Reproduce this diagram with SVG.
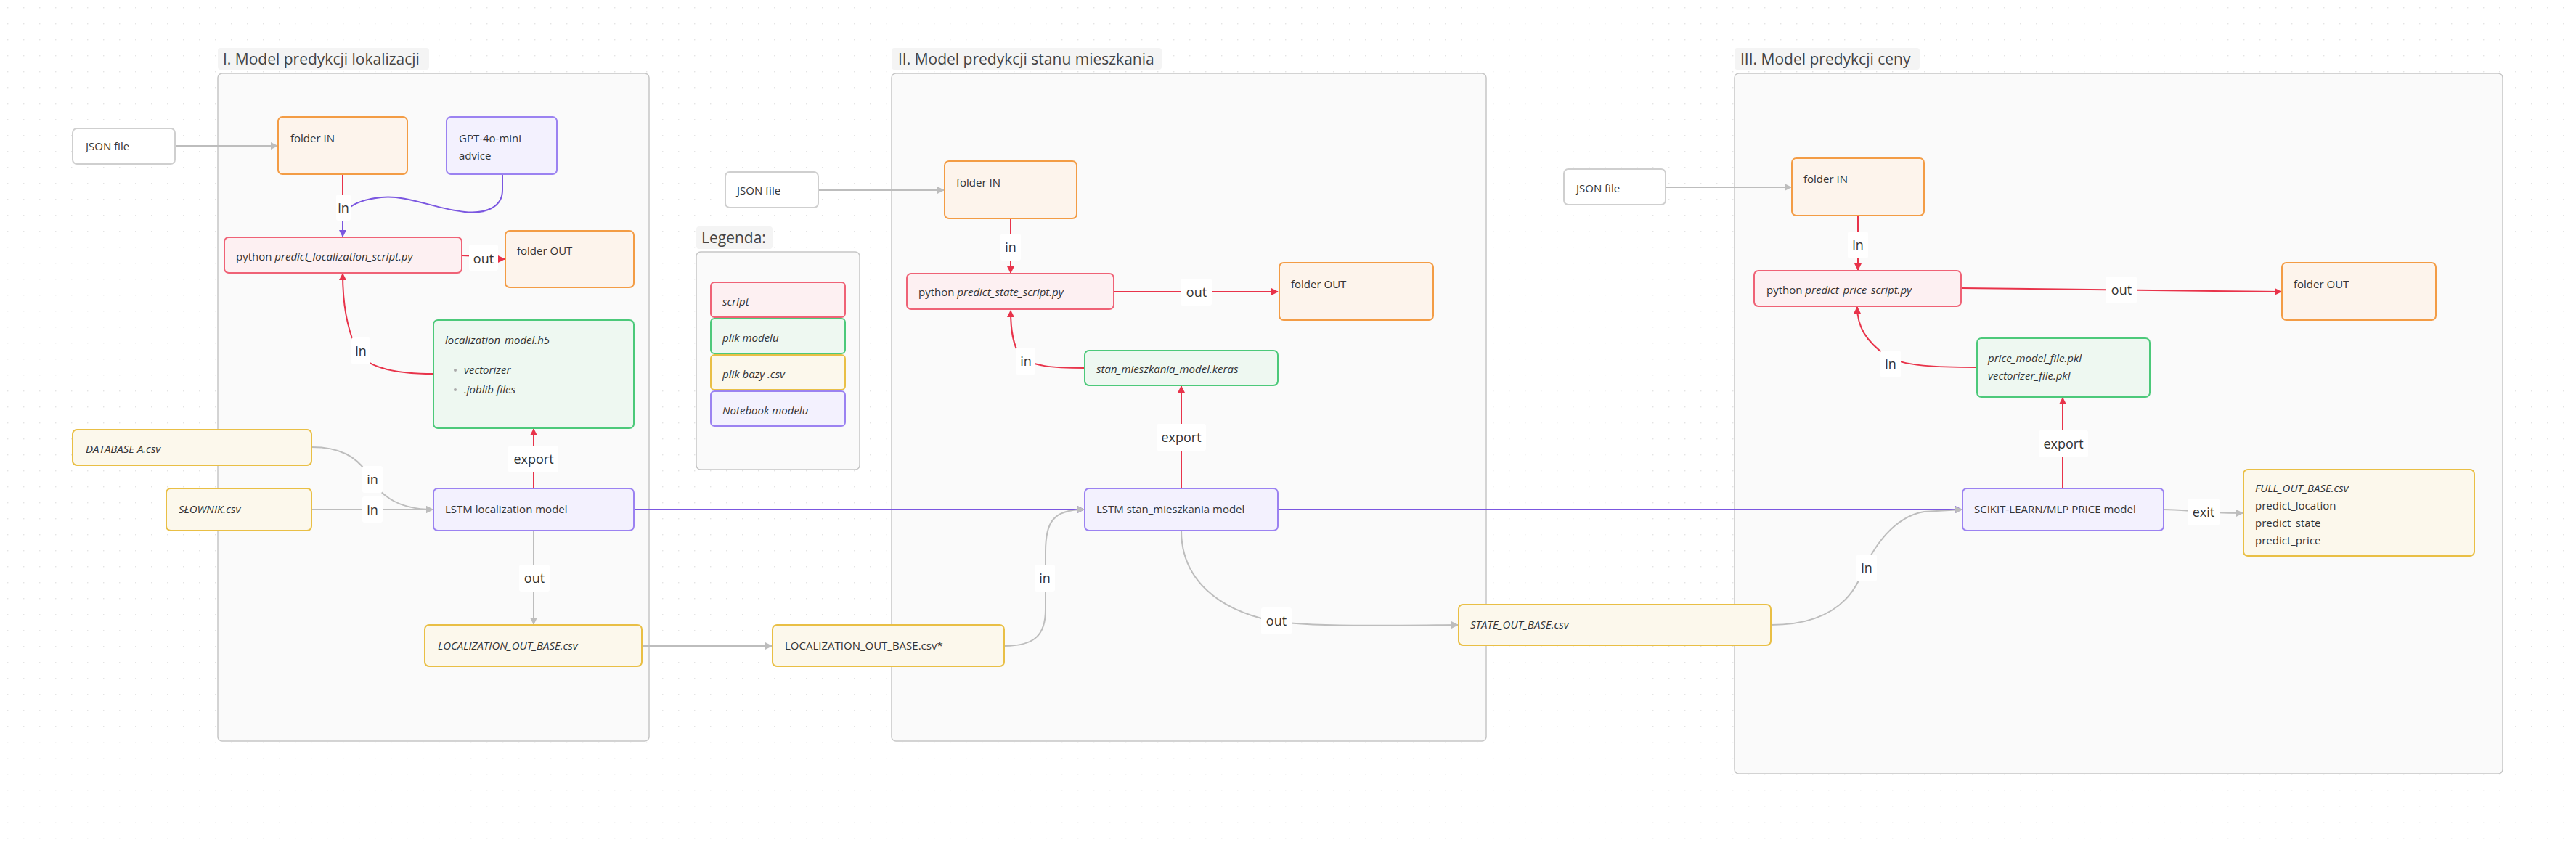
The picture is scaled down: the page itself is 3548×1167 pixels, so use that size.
<svg xmlns="http://www.w3.org/2000/svg" width="3548" height="1167" viewBox="0 0 3548 1167">
<defs>
<pattern id="dots" width="22" height="22" patternUnits="userSpaceOnUse"><rect x="10" y="10" width="1.4" height="1.4" fill="#e4e4e4"/></pattern>
<marker id="aG" viewBox="0 0 10 10" refX="9" refY="5" markerWidth="10" markerHeight="10" markerUnits="userSpaceOnUse" orient="auto"><path d="M0,0 L10,5 L0,10 z" fill="#bdbdbd"/></marker>
<marker id="aR" viewBox="0 0 10 10" refX="9" refY="5" markerWidth="10" markerHeight="10" markerUnits="userSpaceOnUse" orient="auto"><path d="M0,0 L10,5 L0,10 z" fill="#e8334a"/></marker>
<marker id="aP" viewBox="0 0 10 10" refX="9" refY="5" markerWidth="10" markerHeight="10" markerUnits="userSpaceOnUse" orient="auto"><path d="M0,0 L10,5 L0,10 z" fill="#7b57e0"/></marker>
</defs>
<style>
text{font-family:"Open Sans","Noto Sans",sans-serif;fill:#333;}
.grp{fill:#fafafa;stroke:#c6c6c6;stroke-width:1.5;}
.gt{fill:#f4f4f4;}
.gtt{font-size:21px;fill:#444;}
.n{stroke-width:2;}
.json{fill:#ffffff;stroke:#cfcfcf;}
.fold{fill:#fdf4ec;stroke:#f39c45;}
.scr{fill:#fdf0f2;stroke:#ef6276;}
.mod{fill:#eef8f1;stroke:#4cc97a;}
.csv{fill:#fcf8ec;stroke:#e9bf45;}
.nb{fill:#f3f1fe;stroke:#9b82f1;}
.t{font-size:15px;}
.i{font-style:italic;}
.e{fill:none;stroke-width:2;}
.eg{stroke:#bdbdbd;}
.er{stroke:#e8334a;}
.ep{stroke:#7b57e0;}
.lb{fill:#ffffff;}
.lt{font-size:18px;fill:#333;text-anchor:middle;}
</style>
<rect width="3548" height="1167" fill="#ffffff"/>
<rect width="3548" height="1167" fill="url(#dots)"/>

<g id="group1"><rect class="grp" x="300" y="101" width="594" height="920" rx="6"/><rect class="gt" x="300" y="66" width="291" height="30" rx="4"/><text class="gtt" x="307" y="89">I. Model predykcji lokalizacji</text></g>
<g id="group2"><rect class="grp" x="1228" y="101" width="819" height="920" rx="6"/><rect class="gt" x="1228" y="66" width="372" height="30" rx="4"/><text class="gtt" x="1237" y="89">II. Model predykcji stanu mieszkania</text></g>
<g id="group3"><rect class="grp" x="2389" y="101" width="1058" height="965" rx="6"/><rect class="gt" x="2389" y="66" width="255" height="30" rx="4"/><text class="gtt" x="2397" y="89">III. Model predykcji ceny</text></g>
<g id="legend"><rect class="grp" x="959" y="347" width="225" height="300" rx="6"/><rect class="gt" x="959" y="312" width="105" height="31" rx="4"/><text class="gtt" x="966" y="335">Legenda:</text>
<g id="leg-script"><rect class="n scr" x="979" y="389" width="185" height="48" rx="5"/><text class="t i" x="995" y="421">script</text></g>
<g id="leg-model"><rect class="n mod" x="979" y="439" width="185" height="48" rx="5"/><text class="t i" x="995" y="471">plik modelu</text></g>
<g id="leg-csv"><rect class="n csv" x="979" y="489" width="185" height="48" rx="5"/><text class="t i" x="995" y="521">plik bazy .csv</text></g>
<g id="leg-nb"><rect class="n nb" x="979" y="539" width="185" height="48" rx="5"/><text class="t i" x="995" y="571">Notebook modelu</text></g>
</g>

<g id="connectors">
<path class="e eg" d="M241,201 L382,201" marker-end="url(#aG)"/>
<path class="e er" d="M472,240 L472,300"/>
<path class="e ep" d="M692,240 L692,262 C692,285 670,295 640,292 C600,288 560,268 525,272 C495,275 472,285 472,305 L472,326" marker-end="url(#aP)"/>
<path class="e er" d="M636,352 C660,352 670,357 695,357" marker-end="url(#aR)"/>
<path class="e er" d="M597,515 C540,515 500,505 490,480 C478,450 472,420 472,377" marker-end="url(#aR)"/>
<path class="e er" d="M735,673 L735,591" marker-end="url(#aR)"/>
<path class="e eg" d="M429,616 C470,616 490,630 505,650 C520,680 545,702 596,702" marker-end="url(#aG)"/>
<path class="e eg" d="M429,702 L596,702" marker-end="url(#aG)"/>
<path class="e eg" d="M735,731 L735,860" marker-end="url(#aG)"/>
<path class="e ep" d="M873,702 L1493,702" marker-end="url(#aP)"/>
<path class="e ep" d="M1760,702 L2702,702" marker-end="url(#aP)"/>
<path class="e eg" d="M884,890 L1063,890" marker-end="url(#aG)"/>
<path class="e eg" d="M1383,890 C1425,890 1440,875 1440,840 L1440,760 C1440,720 1450,702 1493,702" marker-end="url(#aG)"/>
<path class="e eg" d="M1127,262 L1300,262" marker-end="url(#aG)"/>
<path class="e er" d="M1392,301 L1392,376" marker-end="url(#aR)"/>
<path class="e er" d="M1534,402 L1760,402" marker-end="url(#aR)"/>
<path class="e er" d="M1494,507 C1450,507 1420,505 1405,490 C1395,475 1392,455 1392,428" marker-end="url(#aR)"/>
<path class="e er" d="M1627,673 L1627,532" marker-end="url(#aR)"/>
<path class="e eg" d="M1627,731 C1627,800 1680,840 1750,855 C1800,864 1900,862 2008,861" marker-end="url(#aG)"/>
<path class="e eg" d="M2294,258 L2467,258" marker-end="url(#aG)"/>
<path class="e er" d="M2559,297 L2559,372" marker-end="url(#aR)"/>
<path class="e er" d="M2701,397 L3142,402" marker-end="url(#aR)"/>
<path class="e er" d="M2723,506 C2670,506 2620,505 2598,490 C2570,470 2558,450 2558,423" marker-end="url(#aR)"/>
<path class="e er" d="M2841,673 L2841,548" marker-end="url(#aR)"/>
<path class="e eg" d="M2439,861 C2500,861 2540,840 2560,800 C2580,750 2610,712 2650,705 L2702,702" marker-end="url(#aG)"/>
<path class="e eg" d="M2980,702 C3010,702 3030,707 3089,707" marker-end="url(#aG)"/>
<g id="edge-labels">
<rect class="lb" x="463" y="268" width="20" height="36" rx="3"/><text class="lt" x="473" y="293">in</text>
<rect class="lb" x="646" y="337" width="40" height="36" rx="3"/><text class="lt" x="666" y="363">out</text>
<rect class="lb" x="484" y="465" width="26" height="37" rx="3"/><text class="lt" x="497" y="490">in</text>
<rect class="lb" x="700" y="614" width="69" height="37" rx="3"/><text class="lt" x="735" y="639">export</text>
<rect class="lb" x="499" y="642" width="28" height="37" rx="3"/><text class="lt" x="513" y="667">in</text>
<rect class="lb" x="499" y="684" width="28" height="36" rx="3"/><text class="lt" x="513" y="709">in</text>
<rect class="lb" x="715" y="778" width="42" height="37" rx="3"/><text class="lt" x="736" y="803">out</text>
<rect class="lb" x="1425" y="778" width="28" height="37" rx="3"/><text class="lt" x="1439" y="803">in</text>
<rect class="lb" x="1378" y="322" width="28" height="37" rx="3"/><text class="lt" x="1392" y="347">in</text>
<rect class="lb" x="1626" y="384" width="43" height="37" rx="3"/><text class="lt" x="1648" y="409">out</text>
<rect class="lb" x="1399" y="479" width="27" height="37" rx="3"/><text class="lt" x="1413" y="504">in</text>
<rect class="lb" x="1593" y="584" width="68" height="37" rx="3"/><text class="lt" x="1627" y="609">export</text>
<rect class="lb" x="1737" y="837" width="42" height="37" rx="3"/><text class="lt" x="1758" y="862">out</text>
<rect class="lb" x="2545" y="319" width="28" height="37" rx="3"/><text class="lt" x="2559" y="344">in</text>
<rect class="lb" x="2900" y="381" width="43" height="37" rx="3"/><text class="lt" x="2922" y="406">out</text>
<rect class="lb" x="2590" y="483" width="28" height="37" rx="3"/><text class="lt" x="2604" y="508">in</text>
<rect class="lb" x="2808" y="593" width="68" height="37" rx="3"/><text class="lt" x="2842" y="618">export</text>
<rect class="lb" x="2557" y="764" width="28" height="37" rx="3"/><text class="lt" x="2571" y="789">in</text>
<rect class="lb" x="3013" y="687" width="44" height="37" rx="3"/><text class="lt" x="3035" y="712">exit</text>
</g>
</g>

<g id="json1"><rect class="n json" x="100" y="177" width="141" height="49" rx="6"/><text class="t" x="118" y="207">JSON file</text></g>
<g id="folderIn1"><rect class="n fold" x="383" y="161" width="178" height="79" rx="6"/><text class="t" x="400" y="196">folder IN</text></g>
<g id="gpt"><rect class="n nb" x="615" y="161" width="152" height="79" rx="6"/><text class="t" x="632" y="196">GPT-4o-mini</text><text class="t" x="632" y="220">advice</text></g>
<g id="python1"><rect class="n scr" x="309" y="327" width="327" height="49" rx="6"/><text class="t" x="325" y="359">python <tspan class="i">predict_localization_script.py</tspan></text></g>
<g id="folderOut1"><rect class="n fold" x="696" y="318" width="177" height="78" rx="6"/><text class="t" x="712" y="351">folder OUT</text></g>
<g id="model1"><rect class="n mod" x="597" y="441" width="276" height="149" rx="6"/><text class="t i" x="613" y="474">localization_model.h5</text><circle cx="627" cy="510" r="2" fill="#aaa"/><text class="t i" x="639" y="515">vectorizer</text><circle cx="627" cy="537" r="2" fill="#aaa"/><text class="t i" x="639" y="542">.joblib files</text></g>
<g id="database"><rect class="n csv" x="100" y="592" width="329" height="49" rx="6"/><text class="t i" x="118" y="624">DATABASE A.csv</text></g>
<g id="slownik"><rect class="n csv" x="229" y="673" width="200" height="58" rx="6"/><text class="t i" x="246" y="707">SŁOWNIK.csv</text></g>
<g id="lstm1"><rect class="n nb" x="597" y="673" width="276" height="58" rx="6"/><text class="t" x="613" y="707">LSTM localization model</text></g>
<g id="locOut"><rect class="n csv" x="585" y="861" width="299" height="57" rx="6"/><text class="t i" x="603" y="895">LOCALIZATION_OUT_BASE.csv</text></g>

<g id="json2"><rect class="n json" x="999" y="237" width="128" height="49" rx="6"/><text class="t" x="1015" y="268">JSON file</text></g>
<g id="folderIn2"><rect class="n fold" x="1301" y="222" width="182" height="79" rx="6"/><text class="t" x="1317" y="257">folder IN</text></g>
<g id="python2"><rect class="n scr" x="1249" y="377" width="285" height="49" rx="6"/><text class="t" x="1265" y="408">python <tspan class="i">predict_state_script.py</tspan></text></g>
<g id="folderOut2"><rect class="n fold" x="1762" y="362" width="212" height="79" rx="6"/><text class="t" x="1778" y="397">folder OUT</text></g>
<g id="model2"><rect class="n mod" x="1494" y="483" width="266" height="48" rx="6"/><text class="t i" x="1510" y="514">stan_mieszkania_model.keras</text></g>
<g id="lstm2"><rect class="n nb" x="1494" y="673" width="266" height="58" rx="6"/><text class="t" x="1510" y="707">LSTM stan_mieszkania model</text></g>
<g id="locOutStar"><rect class="n csv" x="1064" y="861" width="319" height="57" rx="6"/><text class="t" x="1081" y="895">LOCALIZATION_OUT_BASE.csv*</text></g>
<g id="stateOut"><rect class="n csv" x="2009" y="833" width="430" height="56" rx="6"/><text class="t i" x="2025" y="866">STATE_OUT_BASE.csv</text></g>

<g id="json3"><rect class="n json" x="2154" y="233" width="140" height="49" rx="6"/><text class="t" x="2171" y="265">JSON file</text></g>
<g id="folderIn3"><rect class="n fold" x="2468" y="218" width="182" height="79" rx="6"/><text class="t" x="2484" y="252">folder IN</text></g>
<g id="python3"><rect class="n scr" x="2416" y="373" width="285" height="49" rx="6"/><text class="t" x="2433" y="405">python <tspan class="i">predict_price_script.py</tspan></text></g>
<g id="folderOut3"><rect class="n fold" x="3143" y="362" width="212" height="79" rx="6"/><text class="t" x="3159" y="397">folder OUT</text></g>
<g id="model3"><rect class="n mod" x="2723" y="466" width="238" height="81" rx="6"/><text class="t i" x="2738" y="499">price_model_file.pkl</text><text class="t i" x="2738" y="523">vectorizer_file.pkl</text></g>
<g id="scikit"><rect class="n nb" x="2703" y="673" width="277" height="58" rx="6"/><text class="t" x="2719" y="707">SCIKIT-LEARN/MLP PRICE model</text></g>
<g id="fullOut"><rect class="n csv" x="3090" y="647" width="318" height="119" rx="6"/><text class="t i" x="3106" y="678">FULL_OUT_BASE.csv</text><text class="t" x="3106" y="702">predict_location</text><text class="t" x="3106" y="726">predict_state</text><text class="t" x="3106" y="750">predict_price</text></g>
</svg>
